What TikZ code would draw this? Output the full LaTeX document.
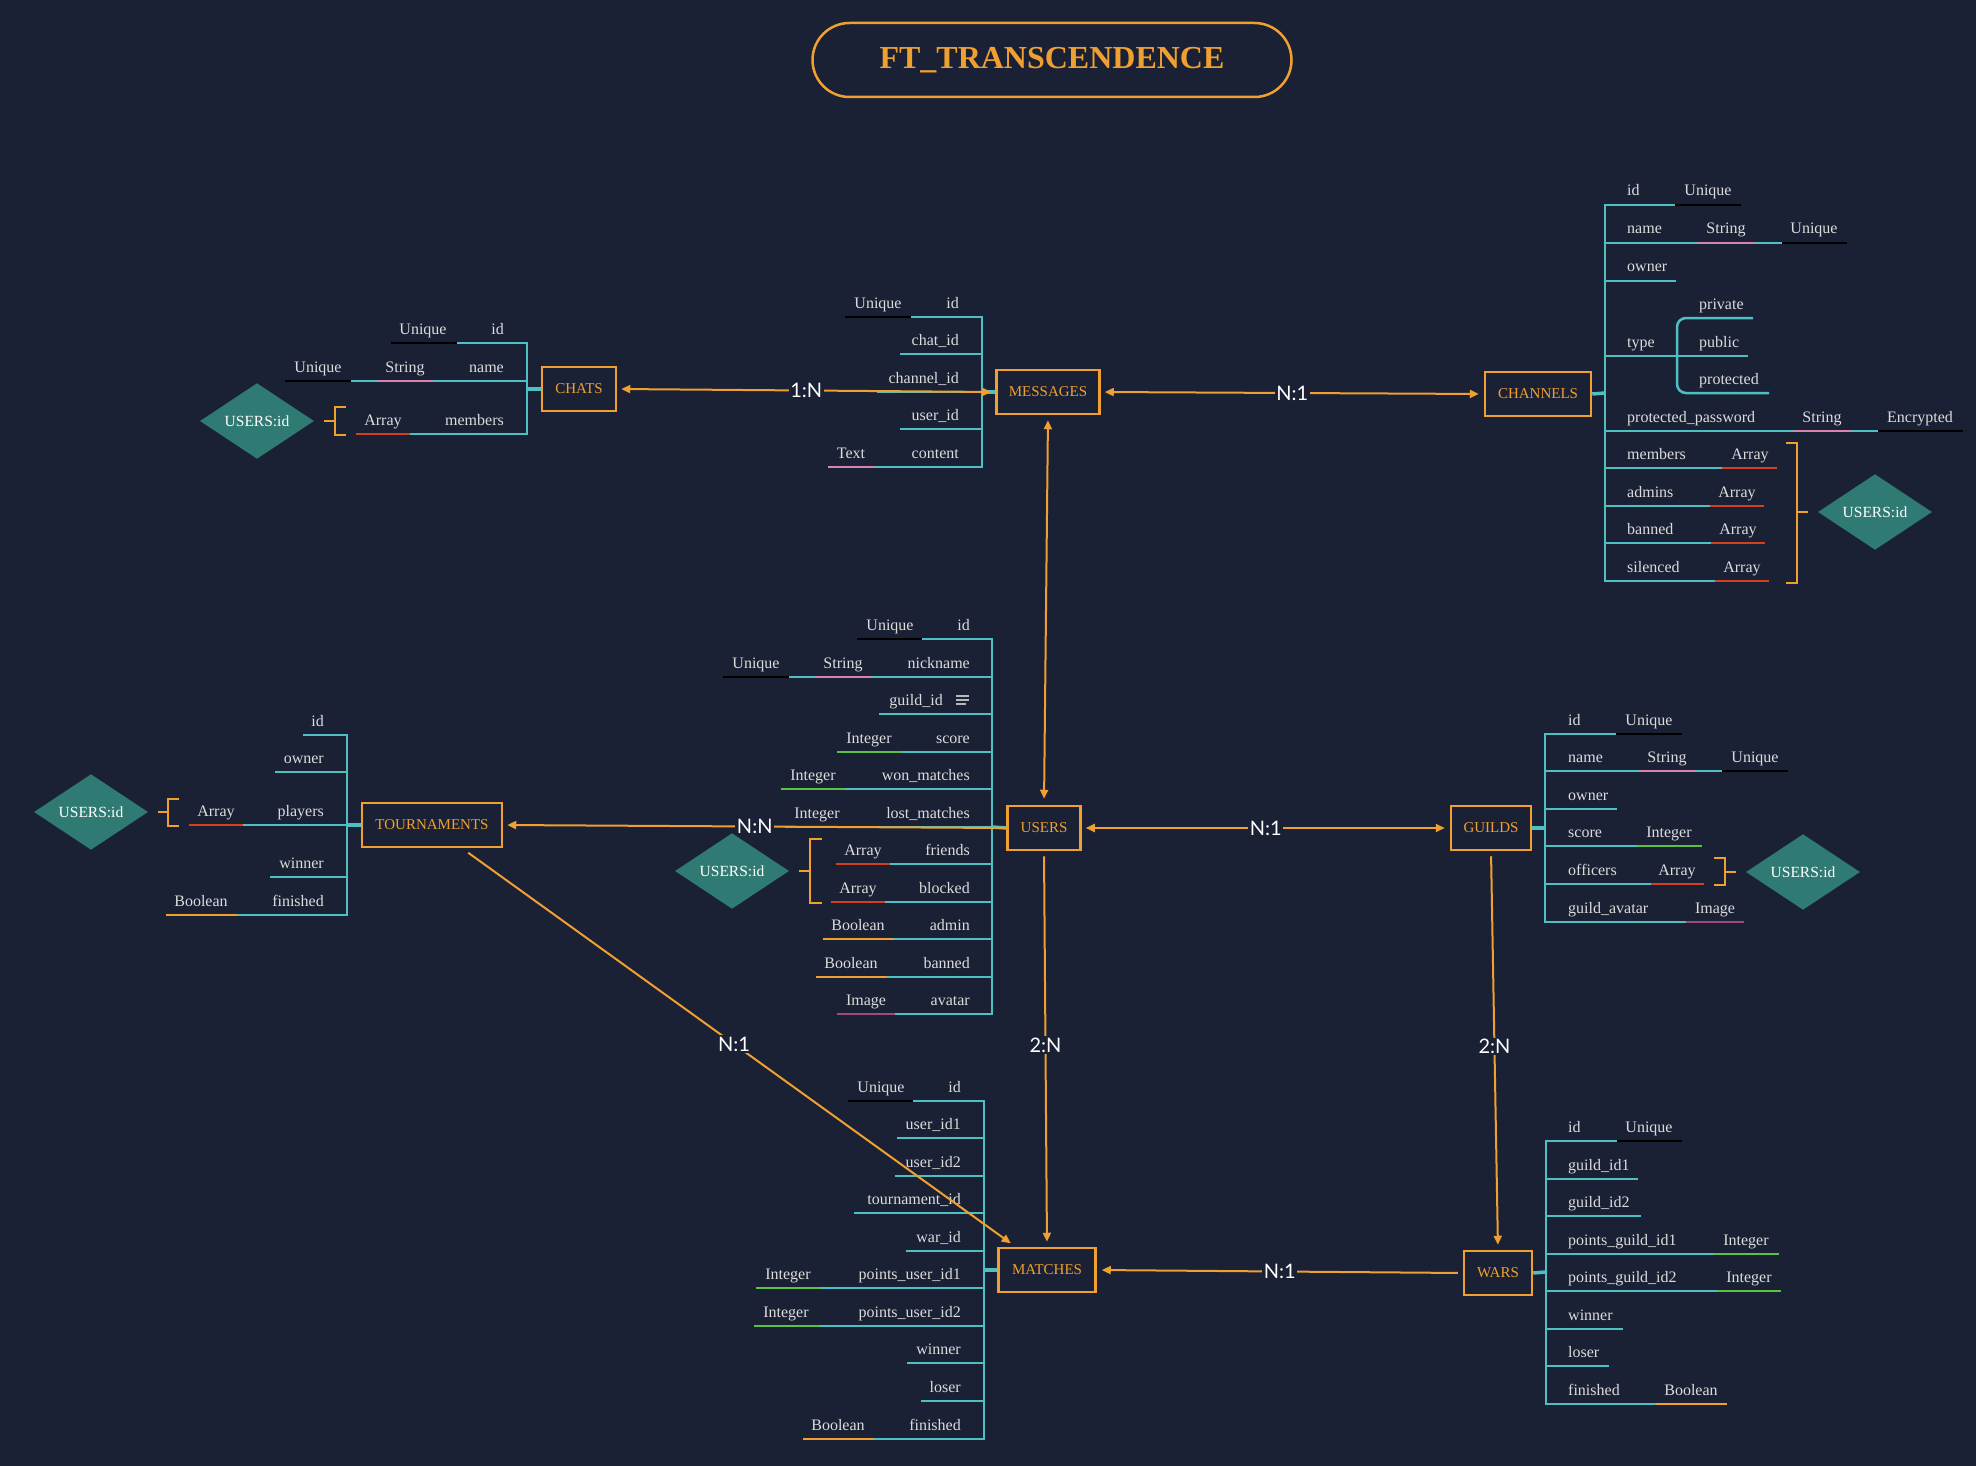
\documentclass[tikz,border=0pt]{standalone}
\usepackage{fontspec}
\setmainfont{Liberation Serif}
\newfontfamily\relfont{Lato}
\usetikzlibrary{shapes.geometric,arrows.meta,calc}
\definecolor{bg}{HTML}{1B2134}
\definecolor{og}{HTML}{F0A030}
\definecolor{tl}{HTML}{4EBFC3}
\definecolor{bk}{HTML}{000000}
\definecolor{pk}{HTML}{D884B0}
\definecolor{rd}{HTML}{D2401E}
\definecolor{gn}{HTML}{5CC040}
\definecolor{pp}{HTML}{A04A7C}
\definecolor{txt}{HTML}{DCDCDC}
\definecolor{dia}{HTML}{2F7A72}
\definecolor{icn}{HTML}{B8B8B8}
\newcounter{lbc}
\newcommand\sgm[4]{\draw[seg,draw=#1] (#2,#4) -- (#3,#4);}
\newcommand\attC[3]{\stepcounter{lbc}\node[attr,anchor=base] (lb\thelbc) at (#1,#2-9) {#3};}
\newcommand\attW[3]{\stepcounter{lbc}\node[attr,anchor=base west] (lb\thelbc) at (#1,#2-9) {#3};}
\newcommand\attE[3]{\stepcounter{lbc}\node[attr,anchor=base east] (lb\thelbc) at (#1,#2-9) {#3};}
\tikzset{
  seg/.style={line width=2.5pt},
  spine/.style={draw=tl,line width=2.5pt,line cap=rect},
  stub/.style={draw=tl,line width=3.5pt},
  attr/.style={text=txt,font=\fontsize{16}{18}\selectfont,inner sep=0pt},
  ent/.style={draw=og,line width=2.5pt,text=og,font=\fontsize{15}{18}\selectfont,minimum height=44pt,inner sep=0pt},
  conn/.style={draw=og,line width=2pt,>={Triangle[length=9pt,width=8pt]}},
  rel/.style={fill=bg,text=white,font=\relfont\fontsize{20}{20}\selectfont,inner sep=1.5pt},
  dmd/.style={diamond,fill=dia,text=white,font=\fontsize{15.5}{18}\selectfont,minimum width=114pt,minimum height=57pt,inner sep=0pt},
  brk/.style={draw=og,line width=2.5pt},
}
\begin{document}
\begin{tikzpicture}[x=1pt,y=-1pt]
\fill[bg] (0,0) rectangle (1976,1466);
\useasboundingbox (0,0) rectangle (1976,1466);

% title
\node[draw=og,line width=2.5pt,rounded corners=37pt,minimum width=479pt,minimum height=74pt,text=og,font=\bfseries\fontsize{32}{36}\selectfont] (title) at (1052,60) {FT\_TRANSCENDENCE};

% entities
\node[ent,minimum width=74pt] (chats) at (579,389) {CHATS};
\node[ent,minimum width=103pt] (messages) at (1048,392) {MESSAGES};
\node[ent,minimum width=106pt] (channels) at (1538,394) {CHANNELS};
\node[ent,minimum width=73pt] (users) at (1044,828) {USERS};
\node[ent,minimum width=140pt] (tournaments) at (432,825) {TOURNAMENTS};
\node[ent,minimum width=80pt] (guilds) at (1491,828) {GUILDS};
\node[ent,minimum width=97pt] (matches) at (1047,1270) {MATCHES};
\node[ent,minimum width=68pt] (wars) at (1498,1273) {WARS};

% ---------- CHATS tree
\draw[spine] (527,343) -- (527,434);
\draw[stub] (527,389) -- (chats.west);
\sgm{bk}{391}{457}{343}\sgm{tl}{457}{527}{343}
\attE{504}{343}{id}\attC{423}{343}{Unique}
\sgm{bk}{285}{351}{381}\sgm{tl}{351}{377}{381}\sgm{pk}{377}{433}{381}\sgm{tl}{433}{527}{381}
\attE{504}{381}{name}\attC{405}{381}{String}\attC{318}{381}{Unique}
\sgm{rd}{356}{410}{434}\sgm{tl}{410}{527}{434}
\attE{504}{434}{members}\attC{383}{434}{Array}
\draw[brk] (346,407) -- (335,407) -- (335,435) -- (346,435);
\draw[brk] (324,421) -- (335,421);
\node[dmd] (d1) at (257,421) {USERS:id};

% ---------- MESSAGES tree
\draw[spine] (982,317) -- (982,467);
\draw[stub] (982,392) -- (messages.west);
\sgm{bk}{845}{911}{317}\sgm{tl}{911}{982}{317}
\attE{959}{317}{id}\attC{878}{317}{Unique}
\sgm{tl}{900}{982}{354}\attE{959}{354}{chat\_id}
\sgm{tl}{877}{982}{392}\attE{959}{392}{channel\_id}
\sgm{tl}{900}{982}{429}\attE{959}{429}{user\_id}
\sgm{pk}{828}{875}{467}\sgm{tl}{875}{982}{467}
\attE{959}{467}{content}\attC{851}{467}{Text}

% ---------- CHANNELS tree
\draw[spine] (1605,205) -- (1605,581);
\draw[stub] (channels.east) -- (1605,393);
\sgm{tl}{1605}{1675}{205}\sgm{bk}{1675}{1741}{205}
\attW{1627}{205}{id}\attC{1708}{205}{Unique}
\sgm{tl}{1605}{1698}{243}\sgm{pk}{1698}{1755}{243}\sgm{tl}{1755}{1782}{243}\sgm{bk}{1782}{1847}{243}
\attW{1627}{243}{name}\attC{1726}{243}{String}\attC{1814}{243}{Unique}
\sgm{tl}{1605}{1676}{281}\attW{1627}{281}{owner}
\sgm{tl}{1605}{1748}{356}
\draw[seg,draw=tl,rounded corners=9pt] (1753,318) -- (1677,318) -- (1677,393) -- (1769,393);
\attW{1627}{356}{type}\attW{1699}{318}{private}\attW{1699}{356}{public}\attW{1699}{393}{protected}
\sgm{tl}{1605}{1794}{431}\sgm{pk}{1794}{1851}{431}\sgm{tl}{1851}{1878}{431}\sgm{bk}{1878}{1963}{431}
\attW{1627}{431}{protected\_password}\attC{1822}{431}{String}\attC{1920}{431}{Encrypted}
\sgm{tl}{1605}{1722}{468}\sgm{rd}{1722}{1777}{468}
\attW{1627}{468}{members}\attC{1750}{468}{Array}
\sgm{tl}{1605}{1710}{506}\sgm{rd}{1710}{1764}{506}
\attW{1627}{506}{admins}\attC{1737}{506}{Array}
\sgm{tl}{1605}{1711}{543}\sgm{rd}{1711}{1765}{543}
\attW{1627}{543}{banned}\attC{1738}{543}{Array}
\sgm{tl}{1605}{1715}{581}\sgm{rd}{1715}{1769}{581}
\attW{1627}{581}{silenced}\attC{1742}{581}{Array}
\draw[brk] (1786,443) -- (1797,443) -- (1797,583) -- (1786,583);
\draw[brk] (1797,512) -- (1808,512);
\node[dmd] (d2) at (1875,512) {USERS:id};

% ---------- USERS tree
\draw[spine] (992,639) -- (992,1014);
\draw[stub] (992,827) -- (users.west);
\sgm{bk}{857}{922}{639}\sgm{tl}{922}{992}{639}
\attE{970}{639}{id}\attC{890}{639}{Unique}
\sgm{bk}{723}{789}{677}\sgm{tl}{789}{815}{677}\sgm{pk}{815}{872}{677}\sgm{tl}{872}{992}{677}
\attE{970}{677}{nickname}\attC{843}{677}{String}\attC{756}{677}{Unique}
\sgm{tl}{879}{992}{714}\attE{943}{714}{guild\_id}
\draw[draw=icn,line width=1.6pt] (956,696) -- (969,696) (956,700) -- (969,700) (956,704) -- (966,704);
\sgm{gn}{837}{902}{752}\sgm{tl}{902}{992}{752}
\attE{970}{752}{score}\attC{869}{752}{Integer}
\sgm{gn}{781}{845}{789}\sgm{tl}{845}{992}{789}
\attE{970}{789}{won\_matches}\attC{813}{789}{Integer}
\sgm{gn}{785}{850}{827}\sgm{tl}{850}{992}{827}
\attE{970}{827}{lost\_matches}\attC{817}{827}{Integer}
\sgm{rd}{836}{890}{864}\sgm{tl}{890}{992}{864}
\attE{970}{864}{friends}\attC{863}{864}{Array}
\sgm{rd}{831}{885}{902}\sgm{tl}{885}{992}{902}
\attE{970}{902}{blocked}\attC{858}{902}{Array}
\sgm{og}{823}{894}{939}\sgm{tl}{894}{992}{939}
\attE{970}{939}{admin}\attC{858}{939}{Boolean}
\sgm{og}{816}{887}{977}\sgm{tl}{887}{992}{977}
\attE{970}{977}{banned}\attC{851}{977}{Boolean}
\sgm{pp}{837}{895}{1014}\sgm{tl}{895}{992}{1014}
\attE{970}{1014}{avatar}\attC{866}{1014}{Image}
\draw[brk] (822,839) -- (810,839) -- (810,903) -- (822,903);
\draw[brk] (799,871) -- (810,871);
\node[dmd] (d3) at (732,871) {USERS:id};

% ---------- TOURNAMENTS tree
\draw[spine] (347,735) -- (347,915);
\draw[stub] (347,825) -- (tournaments.west);
\sgm{tl}{303}{347}{735}\attE{324}{735}{id}
\sgm{tl}{275}{347}{772}\attE{324}{772}{owner}
\sgm{rd}{189}{243}{825}\sgm{tl}{243}{347}{825}
\attE{324}{825}{players}\attC{216}{825}{Array}
\sgm{tl}{270}{347}{877}\attE{324}{877}{winner}
\sgm{og}{166}{237}{915}\sgm{tl}{237}{347}{915}
\attE{324}{915}{finished}\attC{201}{915}{Boolean}
\draw[brk] (179,799) -- (168,799) -- (168,826) -- (179,826);
\draw[brk] (158,812) -- (168,812);
\node[dmd] (d4) at (91,812) {USERS:id};

% ---------- GUILDS tree
\draw[spine] (1545,734) -- (1545,922);
\draw[stub] (guilds.east) -- (1545,828);
\sgm{tl}{1545}{1616}{734}\sgm{bk}{1616}{1682}{734}
\attW{1568}{734}{id}\attC{1649}{734}{Unique}
\sgm{tl}{1545}{1639}{771}\sgm{pk}{1639}{1696}{771}\sgm{tl}{1696}{1722}{771}\sgm{bk}{1722}{1788}{771}
\attW{1568}{771}{name}\attC{1667}{771}{String}\attC{1755}{771}{Unique}
\sgm{tl}{1545}{1617}{809}\attW{1568}{809}{owner}
\sgm{tl}{1545}{1637}{846}\sgm{gn}{1637}{1702}{846}
\attW{1568}{846}{score}\attC{1669}{846}{Integer}
\sgm{tl}{1545}{1651}{884}\sgm{rd}{1651}{1704}{884}
\attW{1568}{884}{officers}\attC{1677}{884}{Array}
\sgm{tl}{1545}{1686}{922}\sgm{pp}{1686}{1744}{922}
\attW{1568}{922}{guild\_avatar}\attC{1715}{922}{Image}
\draw[brk] (1714,858) -- (1725,858) -- (1725,885) -- (1714,885);
\draw[brk] (1725,872) -- (1736,872);
\node[dmd] (d5) at (1803,872) {USERS:id};

% ---------- MATCHES tree
\draw[spine] (984,1101) -- (984,1439);
\draw[stub] (984,1270) -- (matches.west);
\sgm{bk}{848}{913}{1101}\sgm{tl}{913}{984}{1101}
\attE{961}{1101}{id}\attC{881}{1101}{Unique}
\sgm{tl}{897}{984}{1138}\attE{961}{1138}{user\_id1}
\sgm{tl}{895}{984}{1176}\attE{961}{1176}{user\_id2}
\sgm{tl}{854}{984}{1213}\attE{961}{1213}{tournament\_id}
\sgm{tl}{906}{984}{1251}\attE{961}{1251}{war\_id}
\sgm{gn}{756}{821}{1288}\sgm{tl}{821}{984}{1288}
\attE{961}{1288}{points\_user\_id1}\attC{788}{1288}{Integer}
\sgm{gn}{754}{819}{1326}\sgm{tl}{819}{984}{1326}
\attE{961}{1326}{points\_user\_id2}\attC{786}{1326}{Integer}
\sgm{tl}{907}{984}{1363}\attE{961}{1363}{winner}
\sgm{tl}{921}{984}{1401}\attE{961}{1401}{loser}
\sgm{og}{803}{873}{1439}\sgm{tl}{873}{984}{1439}
\attE{961}{1439}{finished}\attC{838}{1439}{Boolean}

% ---------- WARS tree
\draw[spine] (1546,1141) -- (1546,1404);
\draw[stub] (wars.east) -- (1546,1272);
\sgm{tl}{1546}{1617}{1141}\sgm{bk}{1617}{1682}{1141}
\attW{1568}{1141}{id}\attC{1649}{1141}{Unique}
\sgm{tl}{1546}{1638}{1179}\attW{1568}{1179}{guild\_id1}
\sgm{tl}{1546}{1641}{1216}\attW{1568}{1216}{guild\_id2}
\sgm{tl}{1546}{1714}{1254}\sgm{gn}{1714}{1779}{1254}
\attW{1568}{1254}{points\_guild\_id1}\attC{1746}{1254}{Integer}
\sgm{tl}{1546}{1717}{1291}\sgm{gn}{1717}{1781}{1291}
\attW{1568}{1291}{points\_guild\_id2}\attC{1749}{1291}{Integer}
\sgm{tl}{1546}{1623}{1329}\attW{1568}{1329}{winner}
\sgm{tl}{1546}{1609}{1366}\attW{1568}{1366}{loser}
\sgm{tl}{1546}{1656}{1404}\sgm{og}{1656}{1727}{1404}
\attW{1568}{1404}{finished}\attC{1691}{1404}{Boolean}

% ---------- connectors
\draw[conn,<->,shorten <=4pt,shorten >=4pt] (chats.east) -- node[rel] (r1) {1:N} (messages.west);
\draw[conn,<->,shorten <=4pt,shorten >=5pt] (messages.east) -- node[rel] (r2) {N:1} (channels.west);
\draw[conn,<->,shorten <=5pt,shorten >=6pt] (messages.south) -- (users.north);
\draw[conn,->,shorten >=4pt] (users.west) -- node[rel,pos=0.5] (r3) {N:N} (tournaments.east);
\draw[conn,<->,shorten <=4pt,shorten >=5pt] (users.east) -- node[rel] (r4) {N:1} (guilds.west);
\draw[conn,->,shorten <=5pt,shorten >=5pt] (users.south) -- node[rel,pos=0.49] (r5) {2:N} (matches.north);
\draw[conn,->,shorten <=5pt,shorten >=5pt] (guilds.south) -- node[rel,pos=0.49] (r6) {2:N} (wars.north);
\draw[conn,->,shorten <=5pt,shorten >=5pt] (wars.west) -- node[rel] (r7) {N:1} (matches.east);
\draw[conn,->] ($(tournaments.south east)+(-35,4.5)$) -- node[rel,pos=0.49] (r8) {N:1} ($(matches.north west)+(13.5,-3.5)$);
\end{tikzpicture}
\end{document}
